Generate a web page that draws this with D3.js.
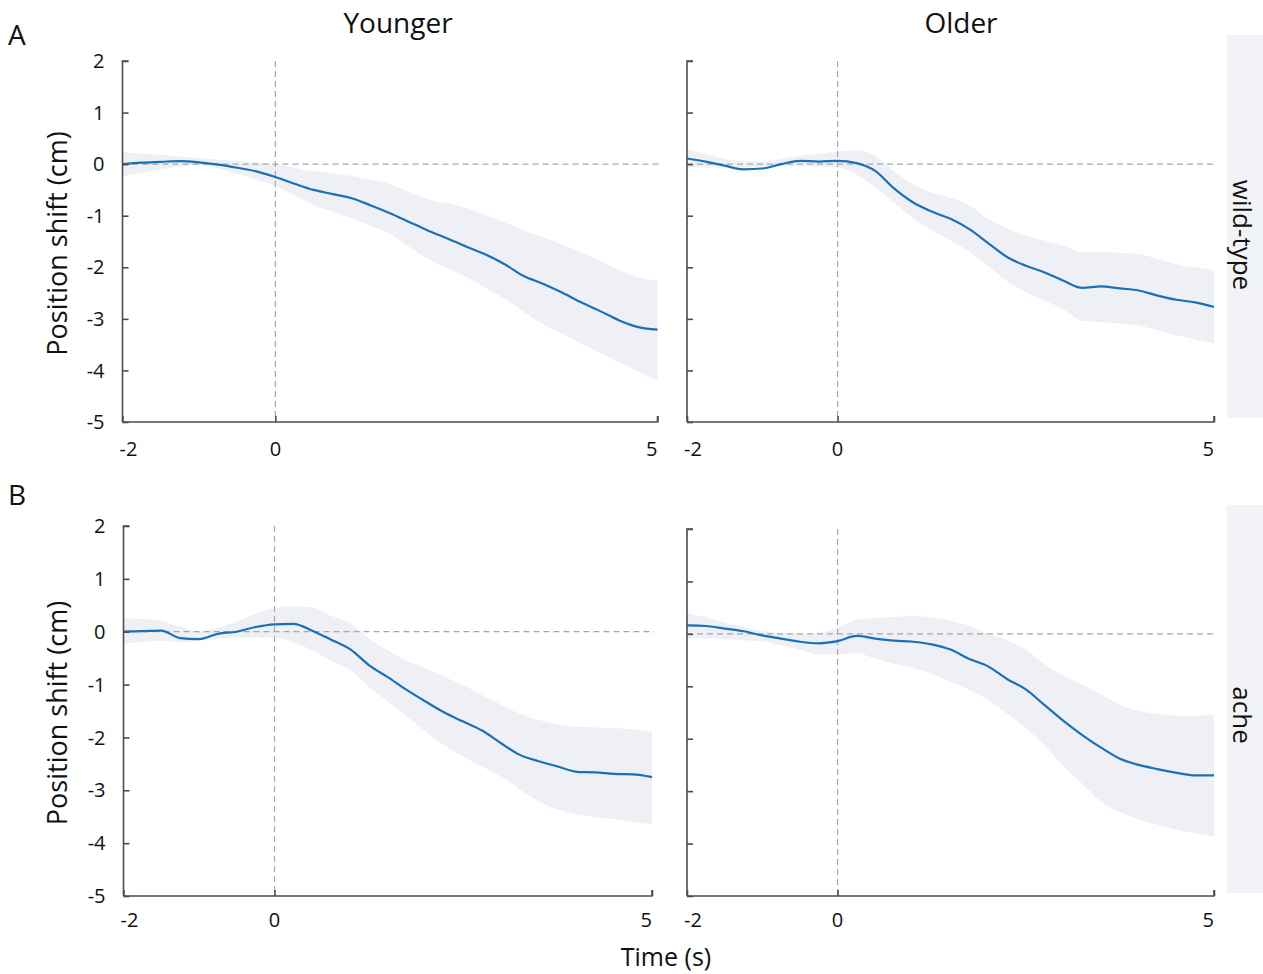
<!DOCTYPE html>
<html>
<head>
<meta charset="utf-8">
<script src="https://cdn.jsdelivr.net/npm/d3@7"></script>
<style>
  html, body { margin: 0; padding: 0; background: #fff; }
  svg text { font-family: "Open Sans", "Noto Sans", sans-serif; fill: #111; }
</style>
</head>
<body>
<svg id="chart" width="1263" height="974"></svg>
<script>
// ---------- data ----------
const time = [-2, -1.75, -1.5, -1.25, -1, -0.75, -0.5, -0.25, 0, 0.25, 0.5, 0.75, 1, 1.25, 1.5, 1.75,
              2, 2.25, 2.5, 2.75, 3, 3.25, 3.5, 3.75, 4, 4.25, 4.5, 4.75, 5];

// Younger, wild-type
const youngWtMean  = [0, 0.03, 0.045, 0.06, 0.035, -0.01, -0.07, -0.14, -0.25, -0.38, -0.5, -0.58, -0.66, -0.8, -0.95, -1.12,
                      -1.29, -1.44, -1.6, -1.75, -1.94, -2.17, -2.32, -2.49, -2.68, -2.85, -3.03, -3.16, -3.21];
const youngWtUpper = [0.23, 0.2, 0.18, 0.15, 0.12, 0.09, 0.065, 0.03, 0, -0.07, -0.14, -0.18, -0.23, -0.3, -0.39, -0.54,
                      -0.68, -0.76, -0.85, -0.99, -1.13, -1.28, -1.42, -1.56, -1.71, -1.88, -2.06, -2.2, -2.26];
const youngWtLower = [-0.23, -0.16, -0.1, -0.05, -0.01, -0.08, -0.19, -0.3, -0.42, -0.6, -0.79, -0.92, -1.05, -1.2, -1.35, -1.6,
                      -1.84, -2.02, -2.19, -2.4, -2.61, -2.86, -3.1, -3.29, -3.48, -3.66, -3.84, -4.02, -4.19];

// Older, wild-type
const oldWtMean  = [0.11, 0.05, -0.03, -0.1, -0.085, 0, 0.065, 0.05, 0.065, 0.02, -0.13, -0.47, -0.74, -0.92, -1.06, -1.26,
                    -1.53, -1.8, -1.97, -2.1, -2.26, -2.4, -2.37, -2.41, -2.45, -2.55, -2.63, -2.68, -2.77];
const oldWtUpper = [0.29, 0.2, 0.1, 0.06, 0.045, 0.1, 0.17, 0.2, 0.24, 0.27, 0.16, -0.14, -0.39, -0.55, -0.65, -0.8,
                    -1.06, -1.25, -1.39, -1.48, -1.58, -1.71, -1.7, -1.72, -1.74, -1.84, -1.94, -2.0, -2.06];
const oldWtLower = [-0.065, -0.065, -0.065, -0.06, -0.045, -0.035, -0.03, -0.05, -0.065, -0.2, -0.45, -0.75, -1.05, -1.28, -1.48, -1.7,
                    -1.97, -2.27, -2.48, -2.65, -2.81, -3.04, -3.06, -3.09, -3.13, -3.22, -3.32, -3.4, -3.48];

// Younger, ache
const youngAcheMean  = [0, 0.01, 0.02, -0.12, -0.14, -0.04, 0.0, 0.09, 0.14, 0.15, 0.02, -0.15, -0.33, -0.63, -0.86, -1.1,
                        -1.32, -1.53, -1.7, -1.87, -2.11, -2.33, -2.45, -2.55, -2.65, -2.66, -2.69, -2.7, -2.75];
const youngAcheUpper = [0.25, 0.24, 0.2, 0.1, 0, 0.08, 0.19, 0.34, 0.44, 0.48, 0.46, 0.3, 0.16, -0.13, -0.35, -0.55,
                        -0.69, -0.85, -1.01, -1.2, -1.38, -1.55, -1.67, -1.75, -1.8, -1.81, -1.82, -1.85, -1.89];
const youngAcheLower = [-0.23, -0.19, -0.17, -0.2, -0.17, -0.14, -0.11, -0.11, -0.11, -0.2, -0.35, -0.55, -0.72, -1.04, -1.32, -1.6,
                        -1.89, -2.15, -2.36, -2.55, -2.74, -2.98, -3.21, -3.36, -3.46, -3.51, -3.55, -3.6, -3.65];

// Older, ache
const oldAcheMean  = [0.16, 0.15, 0.1, 0.05, -0.03, -0.09, -0.15, -0.18, -0.14, -0.04, -0.09, -0.13, -0.15, -0.2, -0.3, -0.48,
                      -0.62, -0.86, -1.06, -1.36, -1.66, -1.93, -2.17, -2.38, -2.5, -2.58, -2.65, -2.7, -2.7];
const oldAcheUpper = [0.4, 0.31, 0.22, 0.13, 0.05, 0.02, 0.006, 0.02, 0.11, 0.27, 0.3, 0.32, 0.34, 0.31, 0.25, 0.15,
                      0.0, -0.12, -0.3, -0.58, -0.8, -0.97, -1.15, -1.35, -1.47, -1.53, -1.56, -1.56, -1.55];
const oldAcheLower = [-0.08, -0.09, -0.1, -0.12, -0.14, -0.22, -0.3, -0.4, -0.39, -0.37, -0.47, -0.57, -0.65, -0.76, -0.92, -1.07,
                      -1.25, -1.52, -1.79, -2.13, -2.52, -2.86, -3.2, -3.4, -3.54, -3.64, -3.73, -3.8, -3.87];

const xTicks = [-2, 0, 5];
const yTicks = [2, 1, 0, -1, -2, -3, -4, -5];
const columnTitles = ["Younger", "Older"];
const rowLabels = ["wild-type", "ache"];
const panelLetters = ["A", "B"];

// ---------- layout ----------
const panels = [
  { row: 0, col: 0, x0: 122.5, x1: 657.5, yTop: 61,  yBot: 422, labOff: 34, mean: youngWtMean,  up: youngWtUpper,  lo: youngWtLower },
  { row: 0, col: 1, x0: 687,   x1: 1214,  yTop: 61,  yBot: 422, labOff: 34, mean: oldWtMean,    up: oldWtUpper,    lo: oldWtLower },
  { row: 1, col: 0, x0: 123.5, x1: 652,   yTop: 526, yBot: 896, labOff: 31, mean: youngAcheMean, up: youngAcheUpper, lo: youngAcheLower },
  { row: 1, col: 1, x0: 687,   x1: 1214,  yTop: 529, yBot: 896, labOff: 31, mean: oldAcheMean,  up: oldAcheUpper,  lo: oldAcheLower }
];
const stripBoxes = [{ top: 35, bot: 418, textY: 235 }, { top: 505, bot: 893, textY: 715 }];

const svg = d3.select("#chart");
const axisColor = "#4d4d4d";
const lineColor = "#1a70b5";
const bandColor = "#eef0f6";
const refColor = "#a8a8a8";

panels.forEach(p => {
  const x = d3.scaleLinear().domain([-2, 5]).range([p.x0, p.x1]);
  const y = d3.scaleLinear().domain([-5, 2]).range([p.yBot, p.yTop]);
  const g = svg.append("g");
  const pts = time.map((t, i) => ({ t, m: p.mean[i], u: p.up[i], l: p.lo[i] }));

  // band
  g.append("path")
    .datum(pts)
    .attr("fill", bandColor)
    .attr("d", d3.area().curve(d3.curveMonotoneX).x(d => x(d.t)).y0(d => y(d.l)).y1(d => y(d.u)));

  // reference lines
  g.append("line")
    .attr("x1", x(-2)).attr("x2", x(5) + 2).attr("y1", y(0)).attr("y2", y(0))
    .attr("stroke", refColor).attr("stroke-width", 1.2).attr("stroke-dasharray", "6,4");
  g.append("line")
    .attr("x1", x(0)).attr("x2", x(0)).attr("y1", y(2)).attr("y2", y(-5))
    .attr("stroke", refColor).attr("stroke-width", 1.2).attr("stroke-dasharray", "6,4");

  // mean line
  g.append("path")
    .datum(pts)
    .attr("fill", "none")
    .attr("stroke", lineColor)
    .attr("stroke-width", 2.2)
    .attr("d", d3.line().curve(d3.curveMonotoneX).x(d => x(d.t)).y(d => y(d.m)));

  // y axis (ticks inward)
  const yAxis = d3.axisRight(y).tickValues(yTicks).tickSize(6).tickFormat("");
  const ya = g.append("g").attr("transform", `translate(${p.x0},0)`).call(yAxis);
  ya.select(".domain").attr("stroke", axisColor).attr("stroke-width", 1.6).attr("d", `M6,${p.yTop}H0V${p.yBot}`);
  ya.selectAll(".tick line").attr("stroke", axisColor).attr("stroke-width", 1.6);

  if (p.col === 0) {
    yTicks.forEach(v => {
      g.append("text")
        .attr("x", p.x0 - 18).attr("y", y(v)).attr("dy", "0.36em")
        .attr("text-anchor", "end").attr("font-size", 20)
        .text(v);
    });
  }

  // x axis (ticks inward)
  const xAxis = d3.axisTop(x).tickValues(xTicks).tickSize(6).tickFormat("");
  const xa = g.append("g").attr("transform", `translate(0,${p.yBot})`).call(xAxis);
  xa.select(".domain").attr("stroke", axisColor).attr("stroke-width", 1.6).attr("d", `M${p.x0},0H${p.x1}V-6`);
  xa.selectAll(".tick line").attr("stroke", axisColor).attr("stroke-width", 1.6);

  xTicks.forEach((v, i) => {
    const anchor = i === 0 ? "start" : (i === xTicks.length - 1 ? "end" : "middle");
    g.append("text")
      .attr("x", x(v) + (i === 0 ? -3 : 0)).attr("y", p.yBot + p.labOff)
      .attr("text-anchor", anchor).attr("font-size", 20)
      .text(v);
  });

  // strip on the right
  if (p.col === 1) {
    const s = stripBoxes[p.row];
    svg.append("rect")
      .attr("x", 1227).attr("y", s.top).attr("width", 40).attr("height", s.bot - s.top)
      .attr("fill", "#f2f3f6");
    svg.append("text")
      .attr("transform", `translate(1233,${s.textY}) rotate(90)`)
      .attr("text-anchor", "middle").attr("font-size", 26)
      .text(rowLabels[p.row]);
  }

  // y label
  if (p.col === 0) {
    svg.append("text")
      .attr("transform", `translate(67,${(p.yTop + p.yBot) / 2 + 2}) rotate(-90)`)
      .attr("text-anchor", "middle").attr("font-size", 27)
      .text("Position shift (cm)");
  }
});

// column titles
svg.append("text").attr("x", 398).attr("y", 33).attr("text-anchor", "middle").attr("font-size", 28).text(columnTitles[0]);
svg.append("text").attr("x", 961).attr("y", 33).attr("text-anchor", "middle").attr("font-size", 28).text(columnTitles[1]);

// panel letters
svg.append("text").attr("x", 8).attr("y", 45).attr("font-size", 28).text(panelLetters[0]);
svg.append("text").attr("x", 8).attr("y", 505).attr("font-size", 28).text(panelLetters[1]);

// x label
svg.append("text").attr("x", 666).attr("y", 966).attr("text-anchor", "middle").attr("font-size", 25).text("Time (s)");
</script>
</body>
</html>
